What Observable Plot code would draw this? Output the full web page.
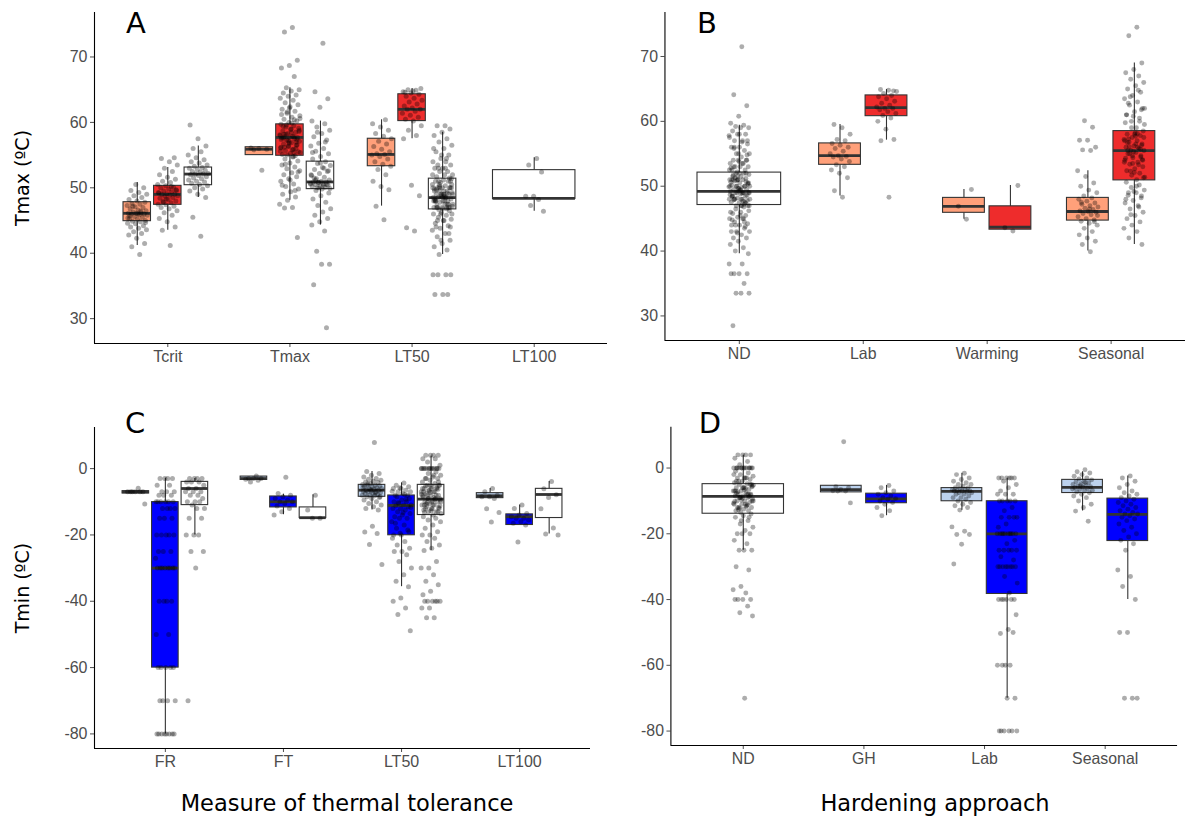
<!DOCTYPE html>
<html><head><meta charset="utf-8">
<script src="https://cdn.jsdelivr.net/npm/d3@7"></script>
<script src="https://cdn.jsdelivr.net/npm/@observablehq/plot@0.6"></script>
<style>
body{margin:0;background:#fff;overflow:hidden;}
#wrap{position:relative;width:1185px;height:818px;overflow:hidden;background:#fff;}
.panel{position:absolute;}
.lbl{position:absolute;font-family:'DejaVu Sans',sans-serif;color:#000;white-space:nowrap;transform:translate(-50%,-50%);line-height:1;}
</style></head><body><div id="wrap"></div>
<script>
// ---------- categories ----------
const catsA = ["Tcrit","Tmax","LT50","LT100"];
const catsB = ["ND","Lab","Warming","Seasonal"];
const catsC = ["FR","FT","LT50","LT100"];
const catsD = ["ND","GH","Lab","Seasonal"];
const fillColors = {salmon:"#FFA07A", red:"#EE2C2C", white:"#FFFFFF", lightblue:"#BCD2EE", blue:"#0000FF"};

// ---------- panel A box stats ----------
const boxA_cat  = ["Tcrit","Tcrit","Tcrit","Tmax","Tmax","Tmax","LT50","LT50","LT50","LT100"];
const boxA_fill = ["salmon","red","white","salmon","red","white","salmon","red","white","white"];
const boxA_lo   = [41.2, 43.5, 48.5, 55.0, 48.1, 44.3, 47.2, 57.5, 39.8, 46.4];
const boxA_q1   = [44.9, 47.4, 50.4, 55.0, 54.9, 49.8, 53.3, 60.2, 46.7, 48.3];
const boxA_med  = [46.1, 49.0, 52.1, 55.9, 57.7, 50.9, 55.1, 62.0, 48.5, 48.4];
const boxA_q3   = [47.8, 50.3, 53.1, 56.2, 59.7, 54.0, 57.5, 64.3, 51.4, 52.7];
const boxA_hi   = [50.8, 53.1, 56.4, 56.2, 65.3, 60.2, 60.4, 65.2, 58.5, 54.6];

// ---------- panel A points ----------
const A_Tcrit_salmon = [39.8,41.0,41.5,42.3,42.8,43.0,43.3,43.6,43.8,44.0,44.2,44.5,44.6,44.8,44.9,45.0,45.2,45.3,45.5,45.6,45.8,45.9,46.0,46.0,46.1,46.1,46.2,46.3,46.5,46.6,46.8,47.0,47.1,47.3,47.5,47.6,47.8,48.0,48.2,48.5,48.8,49.0,49.3,49.6,50.0,50.5,45.4,46.4,47.2,44.7,46.0,45.7];
const A_Tcrit_red = [41.2,43.5,44.0,44.8,45.3,45.8,46.2,46.5,46.8,47.0,47.2,47.4,47.5,47.7,47.9,48.0,48.2,48.4,48.5,48.7,48.8,48.9,49.0,49.0,49.1,49.2,49.4,49.5,49.6,49.8,50.0,50.1,50.3,50.5,50.8,51.0,51.3,51.6,52.0,52.5,53.0,53.5,54.0,54.5,54.6,48.3,49.3,50.2,47.8,49.7];
const A_Tcrit_white = [42.6,45.5,48.5,49.0,49.5,49.8,50.0,50.3,50.5,50.7,50.9,51.0,51.2,51.4,51.5,51.7,51.9,52.0,52.1,52.1,52.2,52.4,52.5,52.7,52.8,53.0,53.1,53.3,53.5,53.8,54.0,54.3,54.6,55.0,55.5,56.0,56.4,57.5,59.6];
const A_Tmax_salmon = [52.7,55.8,55.9,56.0,56.1];
const A_Tmax_red = [74.5,73.8,69.5,68.7,68.3,67.0,65.3,65.0,64.8,64.5,64.2,64.0,63.7,63.4,63.0,62.7,62.4,62.0,61.7,61.4,61.0,60.8,60.5,60.2,60.0,59.7,59.5,59.3,59.1,58.9,58.7,58.5,58.3,58.1,57.9,57.8,57.7,57.7,57.6,57.5,57.3,57.1,56.9,56.7,56.5,56.3,56.1,55.9,55.7,55.5,55.3,55.1,54.9,55.0,55.4,55.8,56.2,56.6,57.0,57.4,57.8,58.2,58.6,59.0,59.4,56.0,57.2,58.0,54.7,54.4,54.1,53.8,53.5,53.2,52.9,52.6,52.3,52.0,51.7,51.4,51.0,50.6,50.2,49.8,49.4,49.0,48.6,48.1,47.5,47.0,46.9,42.4,62.2,61.2,60.4,59.6,58.8,58.4,57.6,57.0,56.4,55.6,54.8,53.6,52.4,51.2,50.4,49.6,61.6,60.6,59.9,58.2,57.4,56.8,56.2,55.4];
const A_Tmax_white = [72.1,64.7,63.6,62.3,60.2,59.8,59.3,58.8,58.3,57.8,57.3,56.8,56.4,56.0,55.6,55.2,54.8,54.4,54.0,53.7,53.4,53.1,52.8,52.5,52.2,51.9,51.6,51.4,51.2,51.0,50.9,50.9,50.8,50.7,50.6,50.5,50.4,50.3,50.2,50.1,50.0,49.9,49.8,51.5,50.5,50.0,52.0,53.0,49.6,49.2,48.8,48.3,47.8,47.3,46.8,46.3,45.8,45.3,44.8,44.3,43.4,40.3,38.3,38.3,35.2,28.6,50.8,50.6,50.4,51.2,52.6,53.8,55.4,57.0,58.5];
const A_LT50_salmon = [45.1,47.2,49.7,50.2,51.0,52.0,52.8,53.3,53.6,54.0,54.4,54.8,55.0,55.1,55.2,55.5,55.9,56.3,56.7,57.1,57.5,57.9,58.3,58.8,59.3,59.8,60.4];
const A_LT50_red = [43.4,43.9,48.8,50.4,57.5,58.0,58.8,59.5,60.2,60.5,60.8,61.1,61.4,61.7,62.0,62.0,62.2,62.5,62.8,63.1,63.4,63.7,64.0,64.3,64.5,64.7,64.9,65.0,65.2,64.8,64.6];
const A_LT50_white = [59.5,59.5,59.0,58.5,58.0,57.5,57.0,56.5,56.0,55.5,55.0,54.5,54.0,54.0,53.5,53.5,53.0,53.0,52.5,52.5,52.0,52.0,51.7,51.5,55.0,56.0,54.5,53.0,51.4,51.2,51.0,51.0,50.8,50.5,50.3,50.0,50.0,50.0,49.8,49.5,49.5,49.3,49.0,49.0,49.0,48.8,48.5,48.5,48.5,48.3,48.0,48.0,48.0,47.8,47.5,47.5,47.3,47.0,47.0,47.0,46.8,46.7,50.5,49.5,48.0,47.5,49.0,50.0,48.5,47.0,51.0,46.8,48.2,49.2,50.2,47.2,48.7,49.7,46.5,46.2,46.0,45.8,45.5,45.2,45.0,44.6,44.2,43.8,43.5,43.0,42.5,42.0,41.5,41.0,40.5,39.8,46.0,45.0,44.0,43.0,42.0,36.7,36.7,36.7,36.7,33.7,33.7,33.7,50.0,49.0,48.0,47.0,50.0,49.0,48.0,47.0,51.0,50.0,49.0,48.0,47.0,46.0,52.0,53.0,45.0,44.0,48.5,49.5,47.5,50.5];
const A_LT100_white = [54.5,53.5,52.4,48.7,48.7,48.2,47.3,46.4];
const ptsA = [A_Tcrit_salmon,A_Tcrit_red,A_Tcrit_white,A_Tmax_salmon,A_Tmax_red,A_Tmax_white,A_LT50_salmon,A_LT50_red,A_LT50_white,A_LT100_white];

// ---------- panel B box stats ----------
const boxB_cat  = ["ND","Lab","Lab","Warming","Warming","Seasonal","Seasonal"];
const boxB_fill = ["white","salmon","red","salmon","red","salmon","red"];
const boxB_lo   = [39.6, 48.5, 57.1, 44.9, 43.3, 40.0, 41.0];
const boxB_q1   = [47.1, 53.3, 60.8, 45.9, 43.3, 44.7, 50.9];
const boxB_med  = [49.2, 54.7, 62.1, 46.9, 43.7, 46.1, 55.5];
const boxB_q3   = [52.1, 56.6, 64.0, 48.2, 46.9, 48.2, 58.5];
const boxB_hi   = [59.4, 59.5, 64.9, 49.5, 50.1, 52.4, 69.0];

// ---------- panel B points ----------
const B_ND_white = [71.5,64.1,62.4,60.8,59.7,59.4,59.2,59.0,59.0,58.5,58.0,58.0,57.5,57.0,57.0,56.5,56.0,56.0,55.5,55.0,55.0,54.5,54.0,54.0,54.0,53.5,53.5,53.0,53.0,53.0,52.5,52.5,52.2,57.8,56.8,55.8,54.8,53.8,52.8,52.0,52.0,51.8,51.5,51.5,51.2,51.0,51.0,51.0,50.8,50.5,50.5,50.2,50.0,50.0,50.0,49.8,49.5,49.5,49.3,49.2,49.0,49.0,49.0,48.8,48.5,48.5,48.2,48.0,48.0,48.0,47.8,47.5,47.5,47.2,47.0,47.0,47.0,51.7,50.7,49.7,48.7,47.7,51.3,50.3,49.4,48.4,47.4,50.9,49.9,48.9,47.9,48.6,49.6,50.6,46.8,46.5,46.2,46.0,45.8,45.5,45.2,45.0,45.0,44.5,44.2,44.0,44.0,43.5,43.0,43.0,42.5,42.0,42.0,41.5,41.0,40.5,40.0,39.6,45.5,44.8,43.8,42.8,38.0,38.0,36.5,36.5,36.5,36.5,35.0,33.5,33.5,33.5,28.5,52.0,51.0,50.0,49.0,48.0,47.0,52.0,51.0,50.0,49.0,48.0,47.0,53.0,54.0,55.0,46.0,45.0,44.0,50.5,49.5,48.5,47.5,51.5,52.5,53.5,56.0,57.0,58.0,43.0,44.5,50.0,49.0,48.0,51.0];
const B_Lab_salmon = [48.3,49.3,51.3,52.0,52.5,53.0,53.3,53.8,54.2,54.5,54.6,54.7,55.0,55.4,55.8,56.0,56.3,56.6,57.0,57.2,58.0,59.0,59.5];
const B_Lab_red = [48.3,57.0,57.2,58.8,60.0,60.5,60.9,61.2,61.5,61.8,62.0,62.0,62.2,62.5,62.8,63.1,63.5,63.8,64.0,64.3,64.6,64.8,64.9,64.7];
const B_Warming_salmon = [44.9,46.9,49.5];
const B_Warming_red = [43.1,43.6,50.1];
const B_Seasonal_salmon = [39.9,41.0,41.5,42.0,42.5,43.0,43.5,44.0,44.3,44.6,44.8,45.0,45.3,45.6,45.8,46.0,46.1,46.2,46.4,46.6,46.8,47.0,47.2,47.4,47.7,48.0,48.2,48.5,49.0,49.4,50.0,50.5,51.5,52.4,55.5,55.6,56.0,57.1,57.1,59.1,60.1,45.5,46.5,47.5,44.5];
const B_Seasonal_red = [74.5,73.2,69.0,68.0,67.5,67.0,66.5,66.0,65.5,65.0,64.5,64.0,63.5,63.0,62.5,62.0,61.5,61.0,60.5,60.0,59.5,59.0,62.8,61.8,60.8,59.8,64.8,63.8,58.5,58.2,58.0,57.8,57.5,57.2,57.0,56.8,56.5,56.2,56.0,55.8,55.5,55.5,55.2,55.0,54.7,54.4,54.0,53.7,53.4,53.0,52.7,52.4,52.0,51.7,51.4,51.0,57.3,56.3,55.3,54.3,53.3,52.3,51.3,57.7,56.7,55.7,54.7,53.7,58.1,56.1,54.1,52.1,50.6,50.2,49.8,49.4,49.0,48.6,48.2,47.8,47.4,47.0,46.5,46.0,45.5,45.0,44.5,44.0,43.5,43.0,42.0,41.0,49.2,48.0,46.8,45.6,57.5,56.5,55.5,54.5,53.5,57.0,56.0,55.0,54.0,58.0,61.0,60.0,59.0,62.0,50.0,49.0,48.5];
const ptsB = [B_ND_white,B_Lab_salmon,B_Lab_red,B_Warming_salmon,B_Warming_red,B_Seasonal_salmon,B_Seasonal_red];

// ---------- panel C box stats ----------
const boxC_cat  = ["FR","FR","FR","FT","FT","FT","LT50","LT50","LT50","LT100","LT100","LT100"];
const boxC_fill = ["lightblue","blue","white","lightblue","blue","white","lightblue","blue","white","lightblue","blue","white"];
const boxC_lo   = [-7.5, -80, -20, -3.4, -13.9, -14.9, -12.5, -35.6, -24.7, -8.9, -17.0, -19.7];
const boxC_q1   = [-7.5, -60, -11.0, -3.4, -11.7, -14.9, -8.5, -20.1, -14.0, -8.9, -17.0, -14.9];
const boxC_med  = [-7.0, -30, -6.0, -3.0, -10.0, -14.8, -6.5, -11.1, -9.2, -8.2, -14.5, -7.8];
const boxC_q3   = [-6.8, -10.1, -4.0, -2.4, -8.4, -11.7, -4.9, -8.1, -4.9, -7.4, -13.8, -6.1];
const boxC_hi   = [-6.8, -2.9, -3.0, -2.4, -7.7, -7.9, -0.9, -4.3, 3.7, -6.0, -11.0, -3.9];

// ---------- panel C points ----------
const C_FR_lightblue = [-5.9,-7,-7,-7,-7,-7,-7,-10.7];
const C_FR_blue = [-3,-3,-3,-3,-5,-5,-7,-7,-7,-8,-8,-8,-10,-10,-10,-10,-10,-10,-12,-12,-12,-12,-15,-15,-15,-20,-20,-20,-20,-20,-25,-25,-25,-27,-30,-30,-30,-30,-30,-30,-30,-30,-40,-40,-40,-40,-50,-50,-60,-60,-60,-60,-60,-70,-70,-70,-70,-80,-80,-80,-80,-80,-80,-80,-80];
const C_FR_white = [-3,-3,-3,-3,-4,-4,-4,-5,-6,-6,-7,-7,-7,-8,-8,-9,-10,-10,-10,-11,-12,-12,-15,-15,-20,-20,-20,-25,-25,-30,-70];
const C_FT_lightblue = [-2.2,-3,-3,-3,-3.2,-3.5,-4];
const C_FT_blue = [-2.6,-7.5,-8,-8.5,-9,-9.5,-10,-10,-10.5,-11.3,-12,-13,-14];
const C_FT_white = [-8,-12.5,-15,-15];
const C_LT50_lightblue = [7.9,-0.9,-1.5,-2,-2.5,-3,-3.2,-3.5,-3.8,-4,-4.2,-4.5,-4.8,-5,-5,-5.2,-5.5,-5.5,-5.8,-6,-6,-6.2,-6.5,-6.5,-6.7,-6.8,-7,-7,-7.2,-7.5,-7.5,-7.8,-8,-8,-8.2,-8.5,-8.7,-9,-9.5,-10,-10.5,-11,-11.5,-12,-12.5,-6.3,-5.7,-7.3,-4.6,-8.4,-17.4,-19.1,-19.6,-22.9,-28.9];
const C_LT50_blue = [-4.3,-5,-5.5,-6,-6,-6.5,-7,-7,-7.5,-8,-8,-5.8,-6.8,-7.8,-8.5,-9,-9.5,-10,-10,-10.5,-11,-11,-11.2,-11.5,-12,-12,-12.5,-13,-13.5,-14,-14.5,-15,-15,-16,-17,-18,-19,-20,-20,-9.2,-10.2,-11.7,-13.2,-16.5,-18.5,-19.5,-21,-22,-23,-24,-25,-25,-26,-28,-30,-32,-34,-35.6,-39,-40,-42,-44,-48.9];
const C_LT50_white = [4,4,4,4,3,3,2,1,0,0,0,0,0,0,0,0,0,0,-1,-1.5,-2,-2.5,-3,-3,-3.5,-4,-4.5,-5,-5,-5.5,-6,-6,-6.5,-7,-7,-7.5,-8,-8,-8.5,-9,-9,-9.5,-9.6,-10,-10,-10.5,-11,-11,-11.5,-12,-12,-12.5,-13,-13,-13.5,-14,-5.2,-6.2,-7.2,-8.2,-9.2,-10.2,-11.2,-12.2,-13.2,-5.7,-6.7,-7.7,-8.7,-10.7,-11.7,-12.7,-14.5,-15,-15.5,-16,-17,-18,-19,-20,-20,-21,-22,-23,-24,-24.7,-28,-30,-30,-32,-34,-35,-37,-38,-40,-40,-40,-40,-40,-40,-42,-42,-45,-45,-5,-6,-7,-8,-9,-10,-11,-12,-13,-5,-6,-7,-8,-9,-10,-11,0,0,0,-2,-3,-4];
const C_LT100_lightblue = [-6,-7,-8,-8.5,-8.5,-9,-12.1,-13.2,-16.1];
const C_LT100_blue = [-11,-12,-13.5,-14,-14.5,-15,-15,-15.5,-16,-16.5,-17,-22.1];
const C_LT100_white = [-3.9,-6.1,-7.9,-8.7,-12.1,-17.9,-19.7,-20];
const ptsC = [C_FR_lightblue,C_FR_blue,C_FR_white,C_FT_lightblue,C_FT_blue,C_FT_white,C_LT50_lightblue,C_LT50_blue,C_LT50_white,C_LT100_lightblue,C_LT100_blue,C_LT100_white];

// ---------- panel D box stats ----------
const boxD_cat  = ["ND","GH","GH","Lab","Lab","Seasonal","Seasonal"];
const boxD_fill = ["white","lightblue","blue","lightblue","blue","lightblue","blue"];
const boxD_lo   = [-25.0, -7.4, -14.5, -12.8, -70.0, -13.1, -40.0];
const boxD_q1   = [-13.9, -7.4, -10.7, -10.1, -38.3, -7.6, -22.2];
const boxD_med  = [-8.6, -6.6, -9.4, -7.1, -20.0, -5.9, -14.1];
const boxD_q3   = [-4.9, -5.4, -7.8, -6.1, -10.1, -3.6, -9.3];
const boxD_hi   = [3.9, -5.4, -5.3, -1.6, -3.1, -1.1, -2.4];

// ---------- panel D points ----------
const D_ND_white = [4,4,4,4,3,2,1,0,0,0,0,0,0,0,0,0,0,-1,-1.5,-2,-2.5,-3,-3,-3.5,-4,-4.5,-4.8,-5,-5.5,-6,-6,-6.5,-7,-7,-7.5,-8,-8,-8.5,-8.5,-9,-9,-9.5,-10,-10,-10.5,-11,-11,-11.5,-12,-12,-12.5,-13,-13,-13.5,-5.2,-6.2,-7.2,-8.2,-9.2,-10.2,-11.2,-12.2,-5.7,-6.7,-7.7,-8.7,-9.7,-10.7,-11.7,-12.7,-14,-14.5,-15,-16,-17,-18,-19,-20,-20,-20,-22,-23,-25,-25,-25,-30,-31,-36,-37,-38,-40,-40,-40,-40,-42,-44,-45,-70,0,0,0,-2,-3,-4,-5,-6,-7,-8,-9,-10,-11,-12,-5,-6,-7,-8,-9,-10,-3,-4,-15,-16];
const D_GH_lightblue = [8,-5.7,-6,-6.5,-6.9,-7,-7,-10.6];
const D_GH_blue = [-5.3,-6,-7,-7.5,-8,-8.5,-9,-9.3,-9.5,-10,-10.5,-11,-12,-13,-14.5];
const D_Lab_lightblue = [-1.6,-2,-3,-3.5,-4,-4.5,-5,-5,-5.5,-6,-6,-6.2,-6.5,-6.5,-6.8,-7,-7,-7,-7.2,-7.5,-7.5,-8,-8,-8.5,-9,-9,-9.5,-10,-10.5,-11,-11.5,-12,-12.8,-17.9,-19.2,-20.2,-20.2,-23.2,-29.2];
const D_Lab_blue = [-3,-3,-3,-3,-3,-3,-4,-5,-6,-7,-8,-8,-8,-10,-10,-10,-10,-10,-12,-13,-15,-15,-15,-15,-17,-18,-20,-20,-20,-20,-20,-20,-20,-20,-20,-20,-22,-23,-25,-25,-25,-25,-25,-27,-28,-30,-30,-30,-30,-30,-30,-30,-30,-33,-35,-38,-40,-40,-40,-40,-40,-40,-44.6,-49.1,-50.3,-50,-60,-60,-60,-60,-70,-70,-80,-80,-80,-80,-80,-80];
const D_Seasonal_lightblue = [-0.5,-1.1,-1.5,-2,-2.5,-3,-3.3,-3.6,-4,-4.2,-4.5,-4.8,-5,-5.2,-5.5,-5.7,-5.8,-6,-6.2,-6.5,-6.8,-7,-7.3,-7.5,-8,-8.5,-9,-10,-11,-12,-13.1,-16.2,-5.4,-6.4,-4.4];
const D_Seasonal_blue = [-2.4,-3,-4,-5,-6,-7,-7.5,-8,-8.5,-9,-9.5,-10,-10.5,-11,-11.5,-12,-12.5,-13,-13.5,-14,-14,-14.5,-15,-15.5,-16,-17,-18,-19,-20,-21,-22,-23,-25,-31,-33,-36,-40,-50,-50,-70,-70,-70];
const ptsD = [D_ND_white,D_GH_lightblue,D_GH_blue,D_Lab_lightblue,D_Lab_blue,D_Seasonal_lightblue,D_Seasonal_blue];

// ---------- ticks ----------
const yTicksTop = [30,40,50,60,70];
const yTicksBottom = [-80,-60,-40,-20,0];

// deterministic horizontal spread for overplotted points
const jit = i => ((((i + 1) * 0.6180339887) % 1) - 0.5) * 0.17;

function makePanel(cfg) {
  const boxes = cfg.boxCat.map((c, i) => ({cat: c, fill: fillColors[cfg.boxFill[i]], lo: cfg.lo[i], q1: cfg.q1[i], med: cfg.med[i], q3: cfg.q3[i], hi: cfg.hi[i], pts: cfg.pts[i]}));
  boxes.forEach(b => {
    const same = boxes.filter(o => o.cat === b.cat);
    const n = same.length, k = same.indexOf(b);
    const step = 0.75 / n;
    b.x = cfg.cats.indexOf(b.cat) + 1 + (k - (n - 1) / 2) * step;
    b.x1 = b.x - step * 0.45; b.x2 = b.x + step * 0.45;
  });
  const dots = boxes.flatMap(b => b.pts.map((v, i) => ({x: b.x + jit(i), y: v})));
  return Plot.plot({
    width: cfg.width, height: cfg.height,
    marginLeft: cfg.ml, marginRight: cfg.mr, marginTop: cfg.mt, marginBottom: cfg.mb,
    style: {fontSize: "16px", fontFamily: "'Liberation Sans', Arial, sans-serif", color: "#4d4d4d", background: "transparent", overflow: "visible"},
    x: {domain: [0.4, 4.6], ticks: [1,2,3,4], tickFormat: d => cfg.cats[d - 1], tickSize: 4, tickPadding: 3, label: null},
    y: {domain: cfg.yDomain, ticks: cfg.yTicks, tickFormat: d => String(d), tickSize: 4, tickPadding: 3, label: null},
    color: {type: "identity"},
    marks: [
      Plot.ruleX(boxes, {x: "x", y1: "lo", y2: "hi", stroke: "#333", strokeWidth: 1.1}),
      Plot.rect(boxes, {x1: "x1", x2: "x2", y1: "q1", y2: "q3", fill: "fill", stroke: "#333", strokeWidth: 1.1}),
      Plot.ruleY(boxes, {x1: "x1", x2: "x2", y: "med", stroke: "#333", strokeWidth: 2.8}),
      Plot.dot(dots, {x: "x", y: "y", r: 2.5, fill: "#000", fillOpacity: 0.32, stroke: null}),
      Plot.ruleX([0.4], {stroke: "#000", strokeWidth: 1.1}),
      Plot.ruleY([cfg.yDomain[0]], {stroke: "#000", strokeWidth: 1.1})
    ]
  });
}

const wrap = document.getElementById("wrap");
function place(svg, left, top) {
  const d = document.createElement("div");
  d.className = "panel"; d.style.left = left + "px"; d.style.top = top + "px";
  d.appendChild(svg); wrap.appendChild(d);
}
function text(t, x, y, size, rot) {
  const d = document.createElement("div");
  d.className = "lbl"; d.textContent = t;
  d.style.left = x + "px"; d.style.top = y + "px"; d.style.fontSize = size + "px";
  if (rot) d.style.transform = "translate(-50%,-50%) rotate(-90deg)";
  wrap.appendChild(d);
}

place(makePanel({cats: catsA, boxCat: boxA_cat, boxFill: boxA_fill, lo: boxA_lo, q1: boxA_q1, med: boxA_med, q3: boxA_q3, hi: boxA_hi, pts: ptsA,
  yDomain: [26.2, 76.8], yTicks: yTicksTop, width: 620, height: 380, ml: 94, mr: 13, mt: 12, mb: 37}), 0, 0);
place(makePanel({cats: catsB, boxCat: boxB_cat, boxFill: boxB_fill, lo: boxB_lo, q1: boxB_q1, med: boxB_med, q3: boxB_q3, hi: boxB_hi, pts: ptsB,
  yDomain: [26.2, 76.8], yTicks: yTicksTop, width: 590, height: 380, ml: 65, mr: 0, mt: 12, mb: 37}), 600, 0);
place(makePanel({cats: catsC, boxCat: boxC_cat, boxFill: boxC_fill, lo: boxC_lo, q1: boxC_q1, med: boxC_med, q3: boxC_q3, hi: boxC_hi, pts: ptsC,
  yDomain: [-84.4, 12.4], yTicks: yTicksBottom, width: 620, height: 380, ml: 94, mr: 30, mt: 27, mb: 32}), 0, 400);
place(makePanel({cats: catsD, boxCat: boxD_cat, boxFill: boxD_fill, lo: boxD_lo, q1: boxD_q1, med: boxD_med, q3: boxD_q3, hi: boxD_hi, pts: ptsD,
  yDomain: [-84.4, 12.4], yTicks: yTicksBottom, width: 590, height: 380, ml: 71, mr: 8, mt: 27, mb: 32}), 600, 400);

text("A", 136, 23, 29);
text("B", 707, 23, 29);
text("C", 135, 423, 29);
text("D", 710, 423, 29);
text("Tmax (ºC)", 22, 178, 19, true);
text("Tmin (ºC)", 22, 588, 19, true);
text("Measure of thermal tolerance", 347, 803, 22.5);
text("Hardening approach", 935, 803, 22.5);
</script></body></html>
